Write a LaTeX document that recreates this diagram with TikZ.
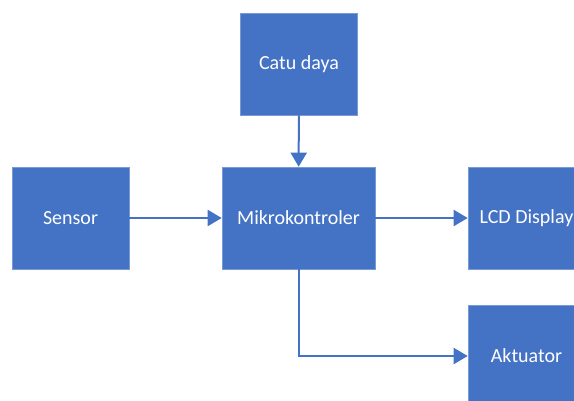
\documentclass[tikz,border=0pt]{standalone}
\usepackage{fontspec}
\setmainfont{Carlito}
\usetikzlibrary{arrows.meta}

\definecolor{boxblue}{HTML}{4472C4}
\definecolor{boxedge}{HTML}{7A9AD6}

\begin{document}
\begin{tikzpicture}[x=1pt, y=-1pt,
        blok/.style={draw=boxedge, line width=0.6pt, fill=boxblue, text=white, font=\fontsize{20}{23}\selectfont, minimum width=117pt, minimum height=102pt, inner sep=0pt},
        panah/.style={draw=boxblue, line width=2pt, -{Triangle[length=14pt, width=16pt]}}]

        \useasboundingbox (0,0) rectangle (574,400);
        \clip (0,0) rectangle (574,400);

        \node [blok] (catu) at (299, 64) {Catu daya};
        \node [blok] (sensor) at (70.5, 218) {Sensor};
        \node [blok, minimum width=153pt] (mikro) at (298.5, 218) {Mikrokontroler};
        \node [blok] (lcd) at (526.5, 218) {LCD Display};
        \node [blok] (aktuator) at (526.5, 356) {Aktuator};

        \draw[panah] (catu) -- (mikro);
        \draw[panah] (sensor) -- (mikro);
        \draw[panah] (mikro) -- (lcd);
        \draw[panah] (mikro.south) |- (aktuator.west);

      \end{tikzpicture}
\end{document}
